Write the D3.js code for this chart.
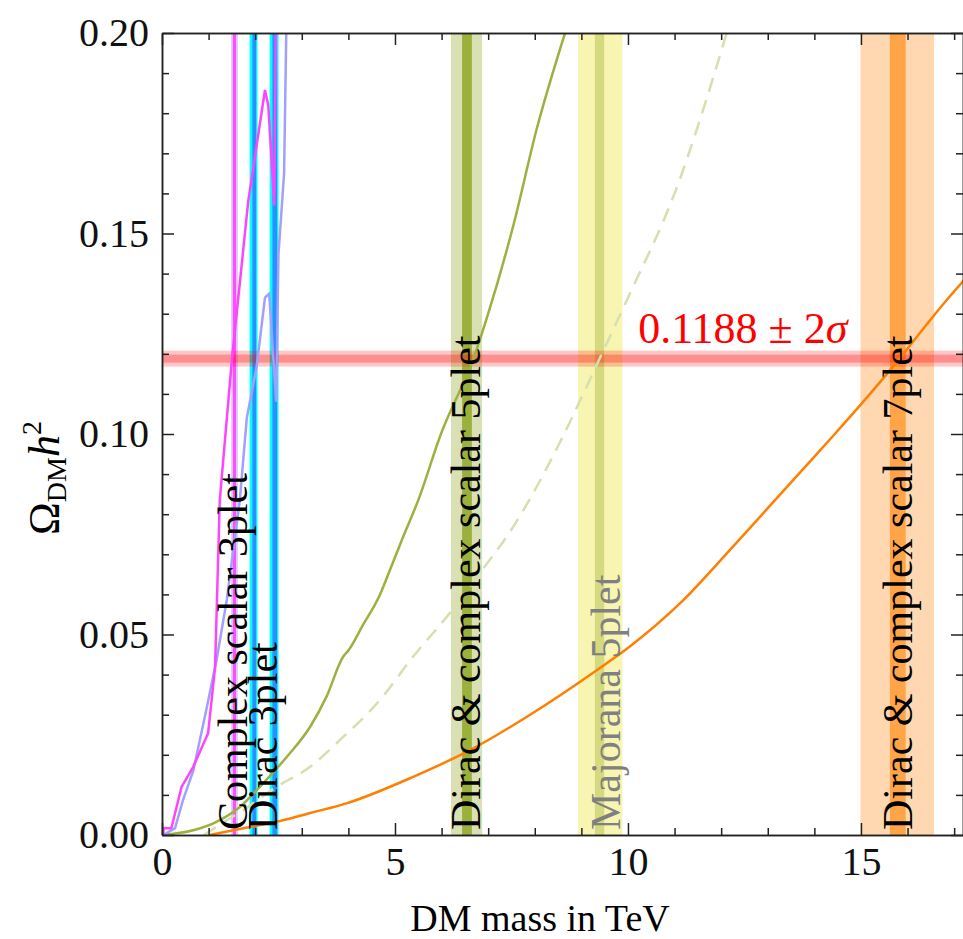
<html>
	<head>
		<script type="text/javascript" src="https://cdn.jsdelivr.net/npm/d3@7"></script>
		<style>
			body { margin: 0; background: #fff; }
			text { font-family: "Liberation Serif", "Times New Roman", serif; }
			.axis path, .axis line { stroke: #222; stroke-width: 1.5px; }
			.axis text { font-size: 40px; fill: #111; font-family: "Liberation Serif", serif; }
		</style>
	</head>
	<body>
		<div id="chart"></div>
		<script>
			// relic abundance curves, mass in TeV vs Omega h^2
			var cs3X = [0.03, 0.03, 0.20, 0.42, 0.67, 0.99, 1.14, 1.24, 1.50, 1.85, 2.21, 2.28, 2.41, 2.45];
			var cs3Y = [0.0, 0.0017, 0.0017, 0.012, 0.017, 0.0254, 0.042, 0.0835, 0.1185, 0.158, 0.1858, 0.182, 0.157, 0.21];

			var d3X = [0.03, 0.28, 0.45, 0.67, 0.92, 1.17, 1.39, 1.67, 1.82, 2.03, 2.21, 2.30, 2.45, 2.50, 2.62, 2.68];
			var d3Y = [0.0, 0.0017, 0.0087, 0.016, 0.0295, 0.0436, 0.0586, 0.0835, 0.104, 0.1167, 0.134, 0.135, 0.108, 0.145, 0.165, 0.21];

			var d5X = [0.0, 0.67, 1.17, 1.67, 2.17, 2.68, 3.18, 3.53, 3.89, 4.0, 4.32, 4.68, 4.89, 5.18, 5.50, 5.97, 6.72, 7.0, 7.54, 8.04, 8.65];
			var d5Y = [0.0, 0.0012, 0.0033, 0.007, 0.0129, 0.0195, 0.027, 0.0345, 0.0445, 0.046, 0.0525, 0.060, 0.066, 0.0745, 0.0835, 0.0995, 0.120, 0.130, 0.152, 0.176, 0.2];

			var m5X = [0.9, 1.3, 1.74, 2.46, 3.18, 3.82, 4.68, 5.39, 6.11, 6.82, 7.54, 8.5, 9.4, 10.0, 11.0, 12.12];
			var m5Y = [0.0, 0.003, 0.0062, 0.012, 0.017, 0.0237, 0.0337, 0.0445, 0.0544, 0.0653, 0.0769, 0.097, 0.119, 0.134, 0.160, 0.2];

			var d7X = [1.03, 2.1, 2.53, 3.18, 3.96, 5.39, 6.68, 7.9, 9.33, 10.04, 11.12, 12.19, 13.0, 13.7, 14.4, 15.12, 15.83, 16.41, 16.84, 17.3];
			var d7Y = [0.0, 0.0025, 0.0035, 0.0055, 0.0079, 0.0145, 0.0216, 0.030, 0.0411, 0.047, 0.0578, 0.0711, 0.0815, 0.0905, 0.0995, 0.1090, 0.1188, 0.1273, 0.1334, 0.1395];

			// vertical mass bands (TeV): outer and inner ranges
			var bandOuterLo = [1.48, 1.88, 2.31, 6.20, 8.93, 14.99];
			var bandOuterHi = [1.63, 2.05, 2.50, 6.87, 9.88, 16.57];
			var bandInnerLo = [1.52, 1.94, 2.37, 6.44, 9.29, 15.62];
			var bandInnerHi = [1.59, 2.02, 2.47, 6.65, 9.49, 15.96];

			// observed relic density
			var omegaObs = 0.1188;
			var omegaSigma = 0.001;

			var labelTexts = ["Complex scalar 3plet", "Dirac 3plet", "Dirac & complex scalar 5plet", "Majorana 5plet", "Dirac & complex scalar 7plet"];
			var labelMass = [1.82, 2.47, 6.82, 9.83, 16.09];

			var xMajor = [0, 5, 10, 15];
			var yMajor = [0, 0.05, 0.10, 0.15, 0.20];

			// styles
			var outerColors = ["#d9d3ff", "#00ffff", "#00ffff", "#d9e0b4", "#f7f5b1", "#ffd8b1"];
			var innerColors = ["#ff4dff", "#2d8fff", "#2d8fff", "#9bb13b", "#d5d97f", "#ffa447"];
			var labelColors = ["#000", "#000", "#000", "#808080", "#000"];

			var mainWidth = 963;
			var mainHeight = 939;
			var margin = {top: 33, right: 0, bottom: 104, left: 162};
			var width = mainWidth - margin.left - margin.right;
			var height = mainHeight - margin.top - margin.bottom;

			var xScale = d3.scaleLinear().domain([0, 17.19]).range([0, width]);
			var yScale = d3.scaleLinear().domain([0, 0.2]).range([height, 0]);

			var svg = d3.select("#chart").append("svg")
				.attr("width", mainWidth)
				.attr("height", mainHeight);

			svg.append("defs").append("clipPath").attr("id", "clip")
				.append("rect").attr("width", width).attr("height", height);

			var g = svg.append("g")
				.attr("transform", "translate(" + margin.left + "," + margin.top + ")");

			var plot = g.append("g").attr("clip-path", "url(#clip)");

			// vertical bands
			plot.selectAll(".outer").data(bandOuterLo).enter().append("rect")
				.attr("x", function(d) { return xScale(d); })
				.attr("width", function(d, i) { return xScale(bandOuterHi[i]) - xScale(d); })
				.attr("y", 0).attr("height", height)
				.style("fill", function(d, i) { return outerColors[i]; });
			plot.selectAll(".inner").data(bandInnerLo).enter().append("rect")
				.attr("x", function(d) { return xScale(d); })
				.attr("width", function(d, i) { return xScale(bandInnerHi[i]) - xScale(d); })
				.attr("y", 0).attr("height", height)
				.style("fill", function(d, i) { return innerColors[i]; });

			// horizontal relic band
			plot.append("rect")
				.attr("x", 0).attr("width", width)
				.attr("y", yScale(omegaObs + 2 * omegaSigma))
				.attr("height", yScale(omegaObs - 2 * omegaSigma) - yScale(omegaObs + 2 * omegaSigma))
				.style("fill", "#ff0000").style("opacity", 0.22);
			plot.append("rect")
				.attr("x", 0).attr("width", width)
				.attr("y", yScale(omegaObs + omegaSigma))
				.attr("height", yScale(omegaObs - omegaSigma) - yScale(omegaObs + omegaSigma))
				.style("fill", "#ff0000").style("opacity", 0.28);

			function zip(xs, ys) { return xs.map(function(x, i) { return [x, ys[i]]; }); }

			var lineLin = d3.line()
				.x(function(d) { return xScale(d[0]); })
				.y(function(d) { return yScale(d[1]); });
			var lineSmooth = d3.line()
				.x(function(d) { return xScale(d[0]); })
				.y(function(d) { return yScale(d[1]); })
				.curve(d3.curveMonotoneX);

			var curves = [
				{pts: zip(m5X, m5Y), color: "#d7dfae", dash: "14,9", smooth: true},
				{pts: zip(d7X, d7Y), color: "#ff7f00", dash: null, smooth: true},
				{pts: zip(d5X, d5Y), color: "#9cb13f", dash: null, smooth: true},
				{pts: zip(d3X, d3Y), color: "#a0a0ff", dash: null, smooth: false},
				{pts: zip(cs3X, cs3Y), color: "#ff44ff", dash: null, smooth: false}
			];
			curves.forEach(function(c) {
				plot.append("path").datum(c.pts)
					.attr("d", c.smooth ? lineSmooth : lineLin)
					.style("fill", "none").style("stroke", c.color)
					.style("stroke-width", "2.5px")
					.style("stroke-dasharray", c.dash);
			});

			// rotated labels
			labelTexts.forEach(function(t, i) {
				g.append("text")
					.attr("transform", "translate(" + xScale(labelMass[i]) + "," + (height - 5) + ") rotate(-90)")
					.style("font-size", "42px")
					.style("fill", labelColors[i])
					.text(t);
			});

			// relic band label
			var rl = g.append("text")
				.attr("x", xScale(10.22)).attr("y", yScale(0.1227))
				.style("font-size", "44px").style("fill", "#ff0000");
			rl.append("tspan").text("0.1188 \u00b1 2");
			rl.append("tspan").style("font-style", "italic").text("\u03c3");

			// axes, ticks pointing inward
			var xMinor = d3.range(0, 18).filter(function(v) { return v % 5 !== 0; });
			var yMinor = d3.range(0, 21).filter(function(v) { return v % 5 !== 0; }).map(function(v) { return v / 100; });

			g.append("g").attr("class", "axis").attr("transform", "translate(0," + height + ")")
				.call(d3.axisBottom(xScale).tickValues(xMajor).tickSize(-12).tickSizeOuter(0).tickPadding(12).tickFormat(d3.format("d")));
			g.append("g").attr("class", "axis").attr("transform", "translate(0," + height + ")")
				.call(d3.axisBottom(xScale).tickValues(xMinor).tickSize(-7).tickSizeOuter(0).tickFormat(""));
			g.append("g").attr("class", "axis")
				.call(d3.axisTop(xScale).tickValues(xMajor).tickSize(-12).tickSizeOuter(0).tickFormat(""));
			g.append("g").attr("class", "axis")
				.call(d3.axisTop(xScale).tickValues(xMinor).tickSize(-7).tickSizeOuter(0).tickFormat(""));

			g.append("g").attr("class", "axis")
				.call(d3.axisLeft(yScale).tickValues(yMajor).tickSize(-12).tickSizeOuter(0).tickPadding(13).tickFormat(d3.format(".2f")));
			g.append("g").attr("class", "axis")
				.call(d3.axisLeft(yScale).tickValues(yMinor).tickSize(-7).tickSizeOuter(0).tickFormat(""));
			g.append("g").attr("class", "axis").attr("transform", "translate(" + width + ",0)")
				.call(d3.axisRight(yScale).tickValues(yMajor).tickSize(-12).tickSizeOuter(0).tickFormat(""));
			g.append("g").attr("class", "axis").attr("transform", "translate(" + width + ",0)")
				.call(d3.axisRight(yScale).tickValues(yMinor).tickSize(-7).tickSizeOuter(0).tickFormat(""));

			// axis titles
			g.append("text")
				.attr("x", 378).attr("y", height + 96)
				.attr("text-anchor", "middle")
				.style("font-size", "38px")
				.text("DM mass in TeV");

			var yl = g.append("text")
				.attr("transform", "translate(-103," + (height / 2 + 44) + ") rotate(-90)")
				.attr("text-anchor", "middle")
				.style("font-size", "44px");
			yl.append("tspan").text("\u03a9");
			yl.append("tspan").attr("dy", "7").style("font-size", "28px").text("DM");
			yl.append("tspan").attr("dy", "-7").style("font-style", "italic").text("h");
			yl.append("tspan").attr("dy", "-18").style("font-size", "28px").text("2");
		</script>
	</body>
</html>
